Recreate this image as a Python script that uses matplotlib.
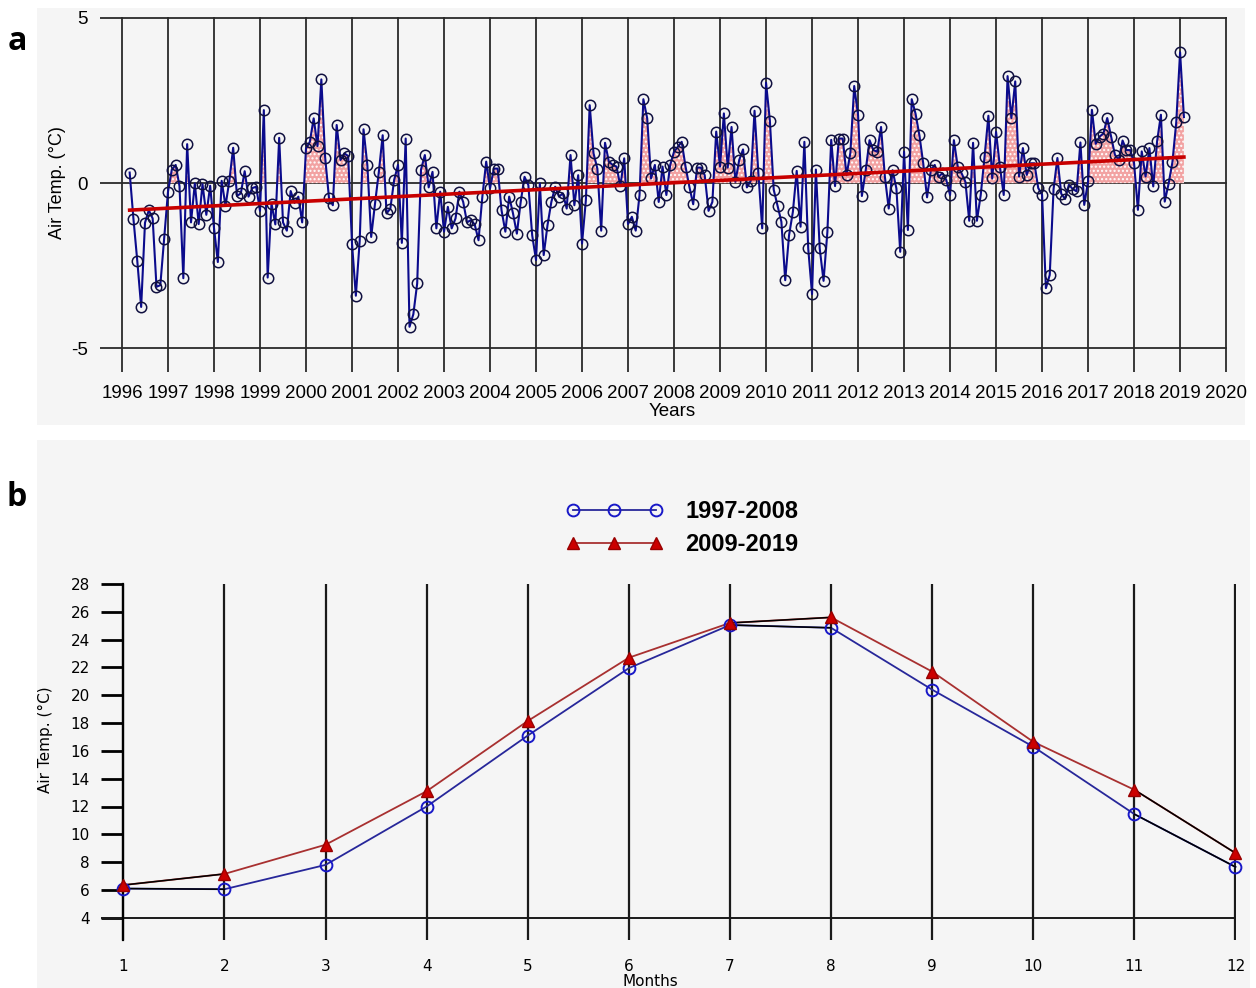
import numpy as np
import matplotlib
matplotlib.use("Agg")
import matplotlib.pyplot as plt
from matplotlib.patches import Rectangle
from matplotlib.lines import Line2D

plt.rcParams['font.family'] = ['Liberation Sans', 'DejaVu Sans']
plt.rcParams['axes.unicode_minus'] = False

# ---- panel a: monthly air temperature anomalies, Mar 1996 - Feb 2019 ----
start_year = 1996
start_month = 3
anomaly = [
    # 1996 (Mar-Dec)
    0.32, -1.1, -2.37, -3.75, -1.2, -0.82, -1.07, -3.14, -3.09, -1.68,
    # 1997
    -0.26, 0.41, 0.55, -0.09, -2.88, 1.18, -1.19, -0.01, -1.24, -0.03, -0.96, -0.08,
    # 1998
    -1.36, -2.39, 0.07, -0.69, 0.07, 1.07, -0.39, -0.31, 0.36, -0.41, -0.15, -0.11,
    # 1999
    -0.84, 2.21, -2.86, -0.62, -1.25, 1.37, -1.19, -1.44, -0.24, -0.6, -0.41, -1.19,
    # 2000
    1.05, 1.25, 1.96, 1.12, 3.14, 0.77, -0.46, -0.67, 1.76, 0.7, 0.9, 0.82,
    # 2001
    -1.83, -3.41, -1.76, 1.63, 0.55, -1.63, -0.62, 0.34, 1.45, -0.92, -0.77, 0.1,
    # 2002
    0.55, -1.81, 1.35, -4.35, -3.97, -3.04, 0.41, 0.85, -0.13, 0.34, -1.37, -0.26,
    # 2003
    -1.47, -0.72, -1.37, -1.07, -0.26, -0.57, -1.19, -1.12, -1.25, -1.73, -0.41, 0.65,
    # 2004
    -0.16, 0.44, 0.44, -0.82, -1.47, -0.41, -0.92, -1.53, -0.57, 0.19, -0.06, -1.58,
    # 2005
    -2.33, -0.01, -2.18, -1.27, -0.57, -0.11, -0.41, -0.31, -0.77, 0.85, -0.67, 0.24,
    # 2006
    -1.83, -0.52, 2.36, 0.9, 0.44, -1.44, 1.22, 0.65, 0.55, 0.5, -0.09, 0.75,
    # 2007
    -1.24, -1.02, -1.44, -0.36, 2.54, 1.96, 0.14, 0.55, -0.57, 0.5, -0.36, 0.55,
    # 2008
    0.95, 1.1, 1.25, 0.5, -0.11, -0.64, 0.47, 0.47, 0.24, -0.84, -0.57, 1.56,
    # 2009
    0.5, 2.11, 0.47, 1.7, 0.04, 0.7, 1.02, -0.13, 0.07, 2.19, 0.3, -1.37,
    # 2010
    3.04, 1.89, -0.2, -0.69, -1.17, -2.94, -1.58, -0.87, 0.37, -1.32, 1.25, -1.98,
    # 2011
    -3.36, 0.41, -1.98, -2.96, -1.48, 1.31, -0.09, 1.35, 1.35, 0.24, 0.92, 2.94,
    # 2012
    2.06, -0.39, 0.39, 1.3, 1.0, 0.95, 1.7, 0.19, -0.77, 0.39, -0.16, -2.08,
    # 2013
    0.95, -1.42, 2.54, 2.1, 1.45, 0.6, -0.43, 0.4, 0.55, 0.19, 0.3, 0.1,
    # 2014
    -0.36, 1.3, 0.5, 0.3, 0.04, -1.14, 1.22, -1.14, -0.36, 0.8, 2.04, 0.14,
    # 2015
    1.55, 0.5, -0.36, 3.24, 1.97, 3.08, 0.2, 1.06, 0.25, 0.6, 0.6, -0.15,
    # 2016
    -0.35, -3.18, -2.78, -0.18, 0.76, -0.32, -0.48, -0.05, -0.18, -0.25, 1.23, -0.66,
    # 2017
    0.05, 2.22, 1.19, 1.41, 1.5, 1.97, 1.41, 0.86, 0.7, 1.29, 1.0, 1.0,
    # 2018
    0.6, -0.81, 0.96, 0.2, 1.06, -0.1, 1.26, 2.07, -0.56, -0.02, 0.63, 1.84,
    # 2019 (Jan-Feb)
    3.96, 2.0,
]
year_ticks = list(range(1996, 2021))
anom_ticks = [-5, 0, 5]

# ---- panel b: mean monthly air temperature for two periods ----
months = list(range(1, 13))
period1 = [6.1, 6.05, 7.8, 12.0, 17.1, 21.95, 25.05, 24.85, 20.4, 16.3, 11.45, 7.65]
period2 = [6.35, 7.15, 9.25, 13.1, 18.15, 22.7, 25.2, 25.6, 21.7, 16.65, 13.2, 8.65]
temp_ticks = list(range(4, 29, 2))
labels = ['1997-2008', '2009-2019']

W, H = 1256, 988
fig = plt.figure(figsize=(W / 100, H / 100), dpi=100)


def fx(px):
    return px / W


def fy(py):
    return 1 - py / H


# light grey panel backgrounds
fig.add_artist(Rectangle((fx(37), fy(425)), fx(1245 - 37), (425 - 8) / H,
                         transform=fig.transFigure, facecolor='#f5f5f5',
                         edgecolor='none', zorder=0))
fig.add_artist(Rectangle((fx(37), 0), fx(1250 - 37), (988 - 440) / H,
                         transform=fig.transFigure, facecolor='#f5f5f5',
                         edgecolor='none', zorder=0))

# ================= panel a =================
ax1 = fig.add_axes([fx(100), fy(372), fx(1227 - 100), (372 - 17) / H])
ax1.set_facecolor('none')
t = start_year + (start_month - 1 + np.arange(len(anomaly))) / 12.0
y = np.array(anomaly)

ax1.fill_between(t, y, 0, where=y > 0, interpolate=True, facecolor='#f2a2a2',
                 edgecolor='white', hatch='....', linewidth=0, zorder=2)
ax1.plot(t, y, color='#0b0b8c', lw=1.5, zorder=3)
ax1.plot(t, y, linestyle='none', marker='o', ms=7.5, mfc='none',
         mec='#101040', mew=1.1, zorder=4)
coef = np.polyfit(t, y, 1)
ax1.plot(t[[0, -1]], np.polyval(coef, t[[0, -1]]), color='#c80000', lw=2.6,
         zorder=5)

ax1.set_xlim(1995.522, 2020.02)
ax1.set_ylim(-5.72, 5.03)
ax1.set_xticks(year_ticks)
ax1.set_yticks(anom_ticks)
ax1.grid(True, color='#2a2a2a', lw=1.3)
ax1.set_axisbelow(True)
for s in ax1.spines.values():
    s.set_visible(False)
ax1.tick_params(axis='both', length=0, labelsize=13.5)
ax1.tick_params(axis='x', pad=9)
ax1.tick_params(axis='y', pad=9)
ax1.set_xlabel('Years', fontsize=13.5)
ax1.xaxis.set_label_coords((672 - 100) / 1127, -(412 - 372) / 355)
ax1.xaxis.label.set_va('center')
ax1.set_ylabel('Air Temp. (°C)', fontsize=13)
ax1.yaxis.set_label_coords((58 - 100) / 1127, (372 - 183) / 355)
ax1.yaxis.label.set_va('center')

fig.text(fx(17), fy(42), 'a', fontsize=23, fontweight='bold',
         family=['Open Sans', 'DejaVu Sans'], ha='center', va='center')
fig.text(fx(17), fy(497), 'b', fontsize=23, fontweight='bold',
         family=['Open Sans', 'DejaVu Sans'], ha='center', va='center')

# ================= panel b =================
ax2 = fig.add_axes([fx(101), fy(940), fx(1236 - 101), (940 - 584) / H])
ax2.set_facecolor('none')
ax2.set_xlim(0.7794, 12.005)
ax2.set_ylim(2.4, 28)
ax2.set_xticks(months)
ax2.set_yticks(temp_ticks)
ax2.grid(True, axis='x', color='#1a1a1a', lw=1.6)
ax2.axhline(4, color='#1a1a1a', lw=1.4)
for name in ['top', 'right', 'bottom']:
    ax2.spines[name].set_visible(False)
ax2.spines['left'].set_position(('data', 1))
ax2.spines['left'].set_linewidth(1.6)
ax2.tick_params(axis='y', direction='out', length=16, width=2, pad=8,
                labelsize=11)
ax2.tick_params(axis='x', length=0, pad=14, labelsize=11)
for lab in ax2.get_xticklabels() + ax2.get_yticklabels():
    lab.set_family(['DejaVu Sans'])

blue_line = dict(color='#27279a', lw=1.3)
blue_mark = dict(marker='o', ms=8.5, mfc='none', mec='#1818c8', mew=1.4)
red_line = dict(color='#a83030', lw=1.3)
red_mark = dict(marker='^', ms=9, mfc='#cc0000', mec='#990000', mew=1)

ax2.plot(months, period1, zorder=3, clip_on=False, **blue_line)
ax2.plot(months, period2, zorder=3, clip_on=False, **red_line)
# a few connecting segments are black in the original
for i in [0, 6, 10]:
    ax2.plot(months[i:i + 2], period1[i:i + 2], color='black', lw=1.1,
             zorder=4, clip_on=False)
    ax2.plot(months[i:i + 2], period2[i:i + 2], color='black', lw=1.1,
             zorder=4, clip_on=False)
ax2.plot(months, period1, linestyle='none', zorder=5, clip_on=False,
         **blue_mark)
ax2.plot(months, period2, linestyle='none', zorder=6, clip_on=False,
         **red_mark)

ax2.set_xlabel('Months', fontsize=11, family=['DejaVu Sans'])
ax2.xaxis.set_label_coords((650 - 101) / 1135, -(974 - 940) / 356)
ax2.xaxis.label.set_va('top')
ax2.set_ylabel('Air Temp. (°C)', fontsize=11, family=['DejaVu Sans'])
ax2.yaxis.set_label_coords((45 - 101) / 1135, (940 - 740) / 356)
ax2.yaxis.label.set_va('center')

handles = [Line2D([], [], **blue_line, **blue_mark),
           Line2D([], [], **red_line, **red_mark)]
leg = fig.legend(handles=handles, labels=labels, loc='upper left',
                 bbox_to_anchor=(fx(566), fy(500)), frameon=False,
                 numpoints=3, handlelength=4.1, handletextpad=0.95,
                 labelspacing=0.42, borderpad=0, borderaxespad=0,
                 prop={'size': 17, 'weight': 'bold'})

fig.savefig('out.png', dpi=100)
